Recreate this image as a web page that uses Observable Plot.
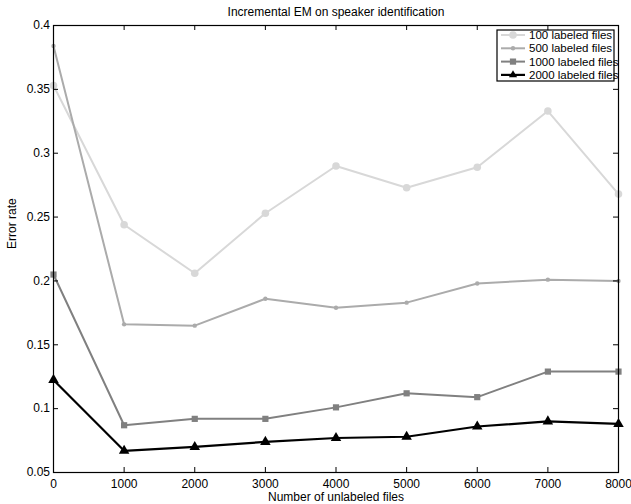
<!DOCTYPE html>
<html>
<head>
<meta charset="utf-8">
<script src="https://cdn.jsdelivr.net/npm/d3@7"></script>
<script src="https://cdn.jsdelivr.net/npm/@observablehq/plot@0.6"></script>
<style>
  html, body { margin: 0; padding: 0; background: #fff; }
  #wrap { position: relative; width: 631px; height: 504px; }
  #legend { position: absolute; left: 0; top: 0; pointer-events: none; }
</style>
</head>
<body>
<div id="wrap"></div>
<script>
// ---- data ----
const unlabeled = [0, 1000, 2000, 3000, 4000, 5000, 6000, 7000, 8000];
const err100  = [0.353, 0.244, 0.206, 0.253, 0.290, 0.273, 0.289, 0.333, 0.268];
const err500  = [0.384, 0.166, 0.165, 0.186, 0.179, 0.183, 0.198, 0.201, 0.200];
const err1000 = [0.205, 0.087, 0.092, 0.092, 0.101, 0.112, 0.109, 0.129, 0.129];
const err2000 = [0.1225, 0.067, 0.070, 0.074, 0.077, 0.078, 0.086, 0.090, 0.088];
const seriesNames = ["100 labeled files", "500 labeled files", "1000 labeled files", "2000 labeled files"];
const xTicks = [0, 1000, 2000, 3000, 4000, 5000, 6000, 7000, 8000];
const yTicks = [0.05, 0.1, 0.15, 0.2, 0.25, 0.3, 0.35, 0.4];
const titleText = "Incremental EM on speaker identification";
const xTitle = "Number of unlabeled files";
const yTitle = "Error rate";

// ---- styles ----
const styles = [
  {color: "#d8d8d8", symbol: "circle",   r: 3.8, sw: 2},
  {color: "#ababab", symbol: "circle",   r: 2.2, sw: 2},
  {color: "#808080", symbol: "square",   r: 3.5, sw: 2},
  {color: "#000000", symbol: "triangle", r: 3.9, sw: 2.2}
];
const allSeries = [err100, err500, err1000, err2000];
const rows = [];
allSeries.forEach((vals, s) => vals.forEach((v, i) => rows.push({s, name: seriesNames[s], x: unlabeled[i], y: v})));

const W = 631, H = 504, mL = 53, mR = 13, mT = 25, mB = 32;
const pW = W - mL - mR, pH = H - mT - mB;
const font = "'Liberation Sans', Arial, Helvetica, sans-serif";

const marks = [];
styles.forEach((st, s) => {
  const d = rows.filter(r => r.s === s);
  marks.push(Plot.line(d, {x: "x", y: "y", stroke: st.color, strokeWidth: st.sw}));
  marks.push(Plot.dot(d, {x: "x", y: "y", symbol: () => st.symbol, fill: st.color, stroke: "none", r: st.r}));
});

const chart = Plot.plot({
  width: W, height: H,
  marginLeft: mL, marginRight: mR, marginTop: mT, marginBottom: mB,
  style: {fontFamily: font, fontSize: "12px", background: "#fff", color: "#000"},
  x: {domain: [0, 8000], label: null},
  y: {domain: [0.05, 0.4], label: null},
  symbol: {type: "identity"},
  marks: [
    ...marks,
    Plot.frame({stroke: "#000", strokeWidth: 1.2}),
    Plot.tickX(xTicks, {x: d => d, insetTop: pH - 5, stroke: "#000"}),
    Plot.tickX(xTicks, {x: d => d, insetBottom: pH - 5, stroke: "#000"}),
    Plot.tickY(yTicks, {y: d => d, insetRight: pW - 5, stroke: "#000"}),
    Plot.tickY(yTicks, {y: d => d, insetLeft: pW - 5, stroke: "#000"}),
    Plot.axisX({ticks: xTicks, tickSize: 0, tickPadding: 6.5, tickFormat: d => String(d), label: null, fontSize: 12}),
    Plot.axisY({ticks: yTicks, tickSize: 0, tickPadding: 3.5, tickFormat: d => String(d), label: null, fontSize: 12}),
    Plot.text([titleText], {text: d => d, frameAnchor: "top", dy: -13, lineAnchor: "middle", fontSize: 12}),
    Plot.text([xTitle], {text: d => d, frameAnchor: "bottom", dy: 25, lineAnchor: "middle", fontSize: 12}),
    Plot.text([yTitle], {text: d => d, frameAnchor: "left", dx: -41, rotate: -90, lineAnchor: "middle", fontSize: 12})
  ]
});
document.getElementById("wrap").appendChild(chart);

// ---- legend overlay ----
const lg = d3.select("#wrap").append("svg").attr("id", "legend")
  .attr("width", W).attr("height", H);
const box = {x: 497, y: 30, w: 117, h: 51};
lg.append("rect").attr("x", box.x).attr("y", box.y).attr("width", box.w).attr("height", box.h)
  .attr("fill", "#fff").attr("stroke", "none");
const symGen = {circle: d3.symbolCircle, square: d3.symbolSquare, triangle: d3.symbolTriangle2};
seriesNames.forEach((name, i) => {
  const st = styles[i];
  const cy = 35 + i * 13.3;
  lg.append("line").attr("x1", 501).attr("x2", 525).attr("y1", cy).attr("y2", cy)
    .attr("stroke", st.color).attr("stroke-width", st.sw);
  lg.append("path").attr("transform", `translate(513,${cy})`)
    .attr("d", d3.symbol(symGen[st.symbol], Math.PI * st.r * st.r)())
    .attr("fill", st.color);
  lg.append("text").attr("x", 529).attr("y", cy).attr("dy", "0.35em")
    .attr("font-family", font).attr("font-size", 11.5).attr("fill", "#000").text(name);
});
lg.append("rect").attr("x", box.x).attr("y", box.y).attr("width", box.w).attr("height", box.h)
  .attr("fill", "none").attr("stroke", "#000").attr("stroke-width", 1.2);
</script>
</body>
</html>
